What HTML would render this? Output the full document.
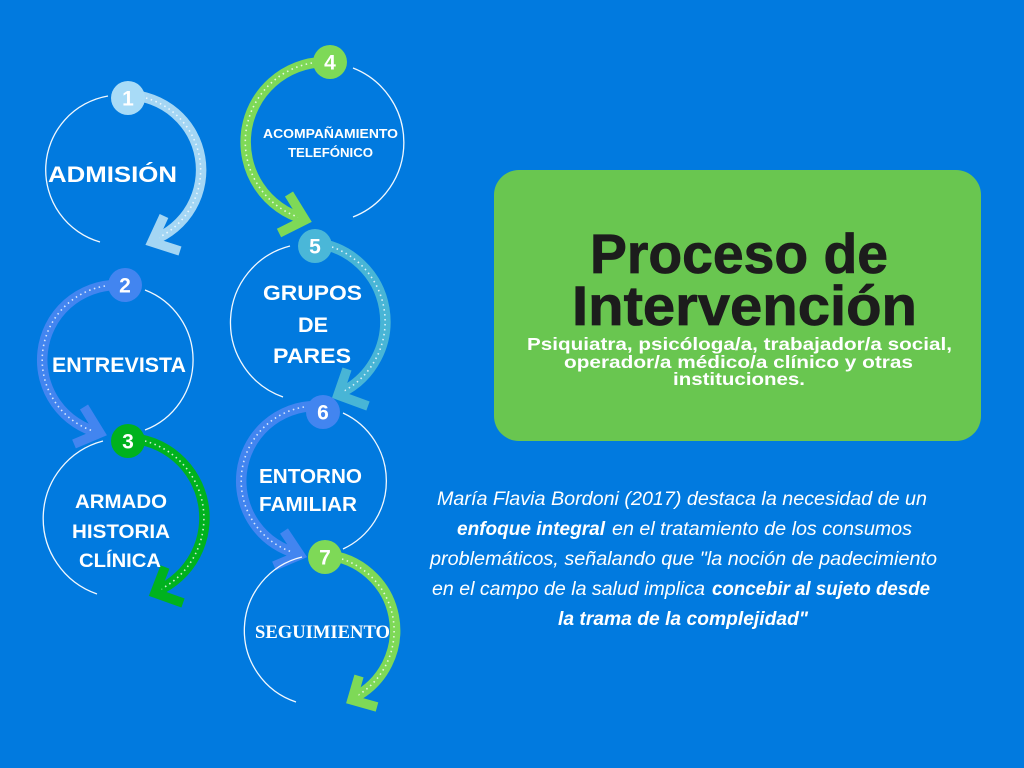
<!DOCTYPE html>
<html>
<head>
<meta charset="utf-8">
<style>
html,body{margin:0;padding:0;background:#017ADF;}
body{width:1024px;height:768px;overflow:hidden;}
svg{display:block;}
.lbl{font-family:"Liberation Sans",sans-serif;font-weight:bold;fill:#fff;}
.num{font-family:"Liberation Sans",sans-serif;font-weight:bold;fill:#fff;font-size:21px;text-anchor:middle;}
.thin{fill:none;stroke:#fff;stroke-width:1.3;opacity:0.95;}
.dots{fill:none;stroke:#fff;stroke-width:1.6;stroke-dasharray:1.5 3.5;opacity:0.8;}
.it{font-family:"Liberation Sans",sans-serif;font-style:italic;fill:#fff;font-size:19px;}
.itb{font-family:"Liberation Sans",sans-serif;font-style:italic;font-weight:bold;fill:#fff;font-size:19px;}
</style>
</head>
<body>
<svg width="1024" height="768" viewBox="0 0 1024 768" xmlns="http://www.w3.org/2000/svg">
<rect x="0" y="0" width="1024" height="768" fill="#017ADF"/>

<!-- ===== Circle 1 ===== -->
<path class="thin" d="M108,96 A75,75 0 0 0 100,242"/>
<path d="M128,95 A75,75 0 0 1 153,240" fill="none" stroke="#A4D6F4" stroke-width="10.5"/>
<path class="dots" d="M146,98 A75,75 0 0 1 153,240"/>
<path d="M164,216 L152,242 L180,251" fill="none" stroke="#A4D6F4" stroke-width="9.5" stroke-linejoin="miter"/>
<circle cx="128" cy="98" r="17" fill="#A8DBF7"/>
<text class="num" x="128" y="105.5">1</text>
<text class="lbl" x="48" y="182" font-size="22" textLength="129" lengthAdjust="spacingAndGlyphs">ADMISIÓN</text>

<!-- ===== Circle 2 ===== -->
<path class="thin" d="M145,290 A75,75 0 0 1 145,430"/>
<path d="M117,285 A75,75 0 0 0 100,433" fill="none" stroke="#4285F0" stroke-width="10.5"/>
<path class="dots" d="M105,286 A75,75 0 0 0 100,433"/>
<path d="M84,407 L100,433 L74,444" fill="none" stroke="#4285F0" stroke-width="9.5" stroke-linejoin="miter"/>
<circle cx="125" cy="285" r="17" fill="#4285F0"/>
<text class="num" x="125" y="292.5">2</text>
<text class="lbl" x="52" y="372" font-size="21" textLength="134" lengthAdjust="spacingAndGlyphs">ENTREVISTA</text>

<!-- ===== Circle 3 ===== -->
<path class="thin" d="M103,441 A80,80 0 0 0 97,594"/>
<path d="M128,438 A80,80 0 0 1 157,591" fill="none" stroke="#00B21E" stroke-width="10.5"/>
<path class="dots" d="M145,441 A80,80 0 0 1 157,591"/>
<path d="M165,567 L155,593 L183,603" fill="none" stroke="#00B21E" stroke-width="9.5" stroke-linejoin="miter"/>
<circle cx="128" cy="441" r="17" fill="#00B21E"/>
<text class="num" x="128" y="448.5">3</text>
<text class="lbl" x="75" y="508" font-size="19.5" textLength="92" lengthAdjust="spacingAndGlyphs">ARMADO</text>
<text class="lbl" x="72" y="538" font-size="19.5" textLength="98" lengthAdjust="spacingAndGlyphs">HISTORIA</text>
<text class="lbl" x="79" y="567" font-size="19.5" textLength="82" lengthAdjust="spacingAndGlyphs">CLÍNICA</text>

<!-- ===== Circle 4 ===== -->
<path class="thin" d="M353,68 A80,80 0 0 1 353,217"/>
<path d="M324,62 A80,80 0 0 0 304,219" fill="none" stroke="#7ED957" stroke-width="10.5"/>
<path class="dots" d="M312,63 A80,80 0 0 0 304,219"/>
<path d="M289,194 L305,220 L279,233" fill="none" stroke="#7ED957" stroke-width="9.5" stroke-linejoin="miter"/>
<circle cx="330" cy="62" r="17" fill="#7ED957"/>
<text class="num" x="330" y="69.5">4</text>
<text class="lbl" x="263" y="138" font-size="13" textLength="135" lengthAdjust="spacingAndGlyphs">ACOMPAÑAMIENTO</text>
<text class="lbl" x="288" y="157" font-size="13" textLength="85" lengthAdjust="spacingAndGlyphs">TELEFÓNICO</text>

<!-- ===== Circle 5 ===== -->
<path class="thin" d="M290,246 A79,79 0 0 0 283,397"/>
<path d="M315,243 A79,79 0 0 1 340,393" fill="none" stroke="#48B5D6" stroke-width="10.5"/>
<path class="dots" d="M332,247 A79,79 0 0 1 340,393"/>
<path d="M347,369 L338,395 L368,406" fill="none" stroke="#48B5D6" stroke-width="9.5" stroke-linejoin="miter"/>
<circle cx="315" cy="246" r="17" fill="#4AB7D8"/>
<text class="num" x="315" y="253.5">5</text>
<text class="lbl" x="263" y="300" font-size="21" textLength="99" lengthAdjust="spacingAndGlyphs">GRUPOS</text>
<text class="lbl" x="298" y="332" font-size="21" textLength="30" lengthAdjust="spacingAndGlyphs">DE</text>
<text class="lbl" x="273" y="363" font-size="21" textLength="78" lengthAdjust="spacingAndGlyphs">PARES</text>

<!-- ===== Circle 6 ===== -->
<path class="thin" d="M343,413 A75,75 0 0 1 343,549"/>
<path d="M316,406 A75,75 0 0 0 299,554" fill="none" stroke="#4285F0" stroke-width="10.5"/>
<path class="dots" d="M304,407 A75,75 0 0 0 299,554"/>
<path d="M284,531 L300,555 L274,566" fill="none" stroke="#4285F0" stroke-width="9.5" stroke-linejoin="miter"/>
<circle cx="323" cy="412" r="17" fill="#4285F0"/>
<text class="num" x="323" y="419.5">6</text>
<text class="lbl" x="259" y="483" font-size="20.5" textLength="103" lengthAdjust="spacingAndGlyphs">ENTORNO</text>
<text class="lbl" x="259" y="511" font-size="20.5" textLength="98" lengthAdjust="spacingAndGlyphs">FAMILIAR</text>

<!-- ===== Circle 7 ===== -->
<path class="thin" d="M302,557 A75.5,75.5 0 0 0 296,702"/>
<path d="M325,555 A75.5,75.5 0 0 1 353,698" fill="none" stroke="#7ED957" stroke-width="10.5"/>
<path class="dots" d="M342,559 A75.5,75.5 0 0 1 353,698"/>
<path d="M359,676 L352,700 L377,707" fill="none" stroke="#7ED957" stroke-width="9.5" stroke-linejoin="miter"/>
<circle cx="325" cy="557" r="17" fill="#7ED957"/>
<text class="num" x="325" y="564.5">7</text>
<text x="255" y="638" font-family="'Liberation Serif',serif" font-weight="bold" font-size="19" fill="#fff" textLength="135" lengthAdjust="spacingAndGlyphs">SEGUIMIENTO</text>

<!-- ===== Green box ===== -->
<rect x="494" y="170" width="487" height="271" rx="25" ry="25" fill="#69C650"/>
<text x="590" y="273" font-family="'Liberation Sans',sans-serif" font-weight="bold" font-size="56" fill="#1c1c1c" stroke="#1c1c1c" stroke-width="0.8" textLength="298" lengthAdjust="spacingAndGlyphs">Proceso de</text>
<text x="572" y="325" font-family="'Liberation Sans',sans-serif" font-weight="bold" font-size="56" fill="#1c1c1c" stroke="#1c1c1c" stroke-width="0.8" textLength="345" lengthAdjust="spacingAndGlyphs">Intervención</text>
<text x="527" y="350" font-family="'Liberation Sans',sans-serif" font-weight="bold" font-size="17.5" fill="#fff" textLength="425" lengthAdjust="spacingAndGlyphs">Psiquiatra, psicóloga/a, trabajador/a social,</text>
<text x="564" y="368" font-family="'Liberation Sans',sans-serif" font-weight="bold" font-size="17.5" fill="#fff" textLength="349" lengthAdjust="spacingAndGlyphs">operador/a médico/a clínico y otras</text>
<text x="673" y="385" font-family="'Liberation Sans',sans-serif" font-weight="bold" font-size="17.5" fill="#fff" textLength="132" lengthAdjust="spacingAndGlyphs">instituciones.</text>

<!-- ===== Italic paragraph ===== -->
<text class="it" x="437" y="505" textLength="490" lengthAdjust="spacingAndGlyphs">María Flavia Bordoni (2017) destaca la necesidad de un</text>
<text class="itb" x="457" y="535" textLength="148" lengthAdjust="spacingAndGlyphs">enfoque integral</text>
<text class="it" x="612" y="535" textLength="300" lengthAdjust="spacingAndGlyphs">en el tratamiento de los consumos</text>
<text class="it" x="430" y="565" textLength="507" lengthAdjust="spacingAndGlyphs">problemáticos, señalando que "la noción de padecimiento</text>
<text class="it" x="432" y="595" textLength="273" lengthAdjust="spacingAndGlyphs">en el campo de la salud implica</text>
<text class="itb" x="712" y="595" textLength="218" lengthAdjust="spacingAndGlyphs">concebir al sujeto desde</text>
<text class="itb" x="558" y="625" textLength="250" lengthAdjust="spacingAndGlyphs">la trama de la complejidad"</text>
</svg>
</body>
</html>
